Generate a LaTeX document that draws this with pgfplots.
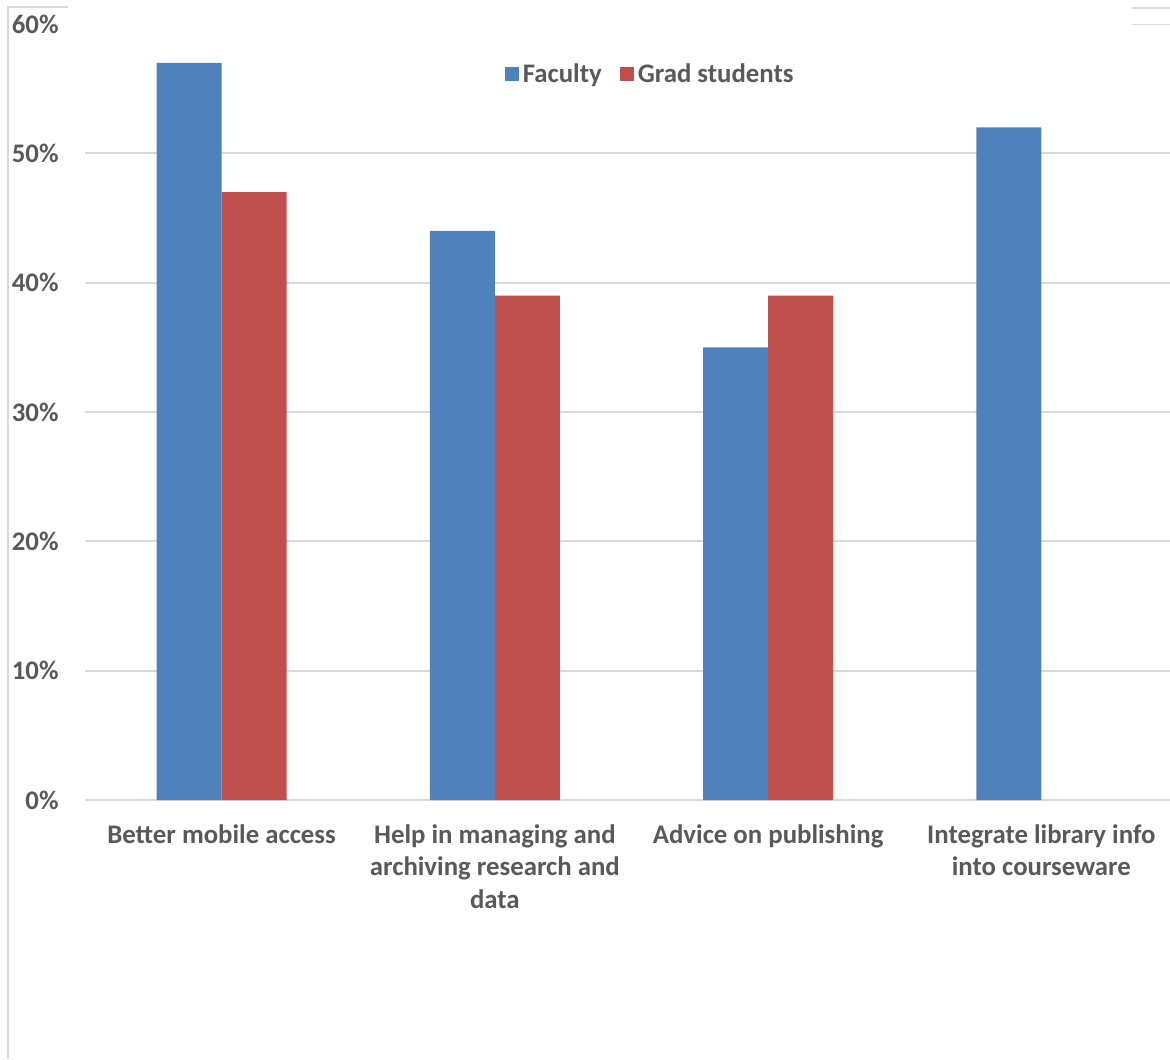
\documentclass[border=0pt]{standalone}
\usepackage{pgfplots}
\pgfplotsset{compat=1.18}
\usepackage{fontspec}
\setmainfont{Carlito}
\definecolor{txt}{HTML}{595959}
\definecolor{grd}{HTML}{D9D9D9}
\definecolor{fac}{HTML}{4F81BD}
\definecolor{grad}{HTML}{C0504D}
\begin{document}
\begin{tikzpicture}[x=1pt,y=1pt]
\useasboundingbox (0,0) rectangle (585,529.5);
\draw[grd, line width=1pt] (4,0) -- (4,526) -- (34,526);
\draw[grd, line width=1pt] (566,525.5) -- (585,525.5);
\begin{axis}[
  at={(42.5pt,129.5pt)}, anchor=south west,
  scale only axis, width=546.5pt, height=388pt,
  ybar=0pt, bar width=32.5pt,
  xmin=-0.5, xmax=3.5, ymin=0, ymax=60,
  xtick={0,1,2,3},
  xticklabels={Better mobile access,{Help in managing and\\archiving research and\\data},Advice on publishing,{Integrate library info\\into courseware}},
  ytick={0,10,20,30,40,50},
  yticklabels={0\%,10\%,20\%,30\%,40\%,50\%},
  extra y ticks={60}, extra y tick labels={60\%},
  extra y tick style={grid=none},
  ymajorgrids, grid style={grd, line width=1pt},
  axis line style={draw=none},
  major tick length=0pt, tick style={draw=none},
  ticklabel style={font=\fontsize{13.4}{16.25}\selectfont\bfseries, text=txt},
  yticklabel style={anchor=east, inner sep=0pt, xshift=-13pt},
  xticklabel style={anchor=north, inner sep=0pt, align=center, yshift=-12pt},
  legend style={at={(0.518,0.935)}, anchor=center, draw=none, fill=none,
    legend columns=2, font=\fontsize{13.4}{16}\selectfont\bfseries, text=txt,
    /tikz/every even column/.append style={column sep=7pt}},
  legend image code/.code={\fill[#1] (-2pt,-3.5pt) rectangle (5pt,3.5pt);},
]
\addplot[fill=fac, draw=none] coordinates {(0,57) (1,44) (2,35) (3,52)};
\addplot[fill=grad, draw=none] coordinates {(0,47) (1,39) (2,39)};
\legend{Faculty, Grad students}
\draw[grd, line width=1pt] (axis cs:3.332,60) -- (axis cs:3.5,60);
\end{axis}
\end{tikzpicture}
\end{document}
